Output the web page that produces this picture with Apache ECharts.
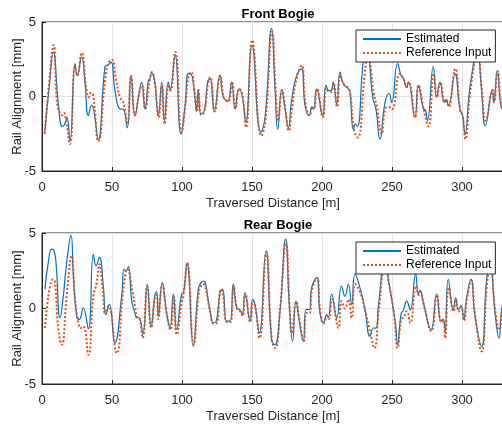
<!DOCTYPE html>
<html>
<head>
<meta charset="utf-8">
<script src="https://cdn.jsdelivr.net/npm/echarts@6/dist/echarts.min.js"></script>
<style>html,body{margin:0;padding:0;background:#fff}#c{width:502px;height:432px}</style>
</head>
<body>
<div id="c"></div>
<script>
var titles = ['Front Bogie', 'Rear Bogie'];
var seriesNames = ['Estimated', 'Reference Input'];
var xTicks = [0, 50, 100, 150, 200, 250, 300];
var yTicks = [-5, 0, 5];

var frontEstimated = [[1.9,-2.5],[5,0.5],[8.1,3.0],[11.7,-0.5],[14.5,-2.0],[16,-1.9],[17.8,-1.4],[20,-3.0],[23.6,2.2],[25.2,1.4],[28.3,2.66],[30.5,1.2],[33.1,-1.28],[35.5,-0.6],[37,-0.9],[40.2,-2.9],[45,2.0],[47,2.1],[49.3,2.3],[52.1,0.4],[55.7,-0.83],[58,-0.85],[60.9,-2.1],[63.6,1.4],[66.4,-1.28],[69.5,0.3],[71.2,0.97],[73.6,-0.83],[76,1.08],[77.1,1.2],[78.3,1.6],[80.7,0.9],[81.9,-0.5],[83.1,-1.28],[85.5,0.97],[87.4,-1.62],[90.2,0.97],[91.5,0.45],[95,2.8],[99.3,-2.53],[102.2,-0.61],[104.5,1.53],[106.4,1.5],[108.8,0.3],[110.4,-1.0],[111.6,0.43],[113.6,-1.17],[116,-0.95],[118.3,0.97],[120,1.2],[123.1,-1.0],[127.1,1.42],[129.5,-0.05],[131.9,-0.27],[133,-0.3],[135.5,0.97],[137.9,-0.83],[140.7,0.52],[143.1,0],[145.5,-1.73],[150,3.45],[156.3,-2.41],[159.3,-1.4],[164,4.57],[166.4,0.63],[168.4,-2.2],[171.2,0.43],[173.6,-0.83],[176,-2.1],[178.3,-0.25],[181.9,1.42],[185.3,1.86],[187.9,-0.61],[191,-1.28],[192.8,-0.7],[194,-0.85],[196.2,0.52],[200.5,-1.3],[202.9,0.74],[205,0.4],[206.5,0.4],[208,0.97],[210.5,-0.5],[212.9,1.64],[215.2,0.86],[218.8,0.52],[220,0.3],[222.4,-2.2],[223.8,-1.85],[225.3,-2.0],[229.5,2.43],[232,3.3],[236.2,-0.05],[238.5,-0.83],[241.4,-2.86],[245,-0.4],[247.9,0.2],[249.8,-0.4],[254,2.2],[256.5,1.4],[258.2,1.19],[260.5,0.63],[261.7,0.97],[266.4,-1.4],[268.8,0.74],[272.4,-0.83],[273.9,-0.9],[275.3,-1.62],[279.5,2.0],[281.9,-0.05],[284.3,0.97],[287.4,-0.4],[288.6,-0.2],[290.2,-0.6],[295,1.5],[298.6,-0.94],[300.3,-1.2],[302.1,-2.52],[305.7,0.63],[311,3.0],[313.8,0.63],[316.7,-1.96],[321.7,0.43],[322.7,-0.4],[325.2,1.7],[327.8,-0.6],[330,-1.0]];

var frontReference = [[1.9,-2.5],[5,0.8],[8.3,3.45],[10.6,-0.3],[12.7,-1.1],[14.5,-1.25],[15.7,-1.1],[17,-1.5],[20,-3.2],[23.6,2.0],[25.2,1.4],[28.3,2.93],[31.9,0.3],[33.5,-0.05],[35,0.25],[36.5,0.1],[40.2,-3.0],[46.2,1.87],[49.8,2.47],[52.9,1.08],[55.7,-0.05],[58.1,-0.4],[60.9,-1.85],[63.6,1.4],[66.4,-1.28],[69.6,0.3],[71.5,0.74],[73.6,-0.83],[77.1,1.19],[78.5,1.64],[80.9,0.7],[82,-0.4],[83.3,-1.4],[85.7,0.74],[87.6,-1.85],[90.4,0.8],[91.7,0.4],[95.2,3.0],[99.7,-2.4],[102.5,-0.5],[104.5,1.3],[106.4,1.64],[109,0.3],[110.6,-1.0],[111.8,0.43],[113.8,-1.25],[116,-1.0],[118.5,0.85],[120.2,1.3],[123.3,-1.0],[127.3,1.42],[129.7,-0.05],[132,-0.3],[133.2,-0.35],[135.7,0.97],[138.1,-0.83],[140.9,0.52],[143.3,0],[145.7,-2.07],[150.2,3.78],[156.7,-2.64],[159.5,-1.7],[164.4,4.35],[166.8,0.63],[168.8,-1.62],[171.4,0.43],[173.8,-0.83],[176.2,-2.3],[178.5,-0.8],[182.1,1.3],[185.5,2.09],[188.1,-0.4],[191.2,-1.28],[193,-0.7],[194.2,-0.85],[196.4,0.52],[200.7,-1.4],[203.1,0.55],[205.2,0.3],[206.7,0.3],[208.2,0.9],[210.7,-0.7],[213.1,1.42],[215.4,0.86],[219,0.52],[220.2,0.2],[223,-2.3],[225.5,-2.75],[230.5,1.5],[233,3.2],[234.5,2.2],[237,0.2],[239,-0.6],[242.6,-2.52],[245.2,-0.83],[247.9,-0.7],[250,-0.85],[255.7,1.53],[258.2,1.19],[260.5,0.63],[261.9,0.97],[266.6,-1.4],[269,0.74],[272.6,-0.83],[276,-2.0],[279.8,1.53],[282.1,-0.05],[284.5,0.97],[287.6,-0.4],[288.8,-0.2],[290.4,-0.7],[295.2,1.87],[298.8,-0.94],[300.5,-1.3],[302.4,-2.86],[306,0.4],[311.3,3.0],[314,0.63],[317,-1.62],[321.9,0.43],[322.9,-0.4],[325.4,1.7],[328,-0.6],[330,-1.0]];

var rearEstimated = [[2.1,1.27],[4.5,3.05],[6.9,3.93],[8.6,3.82],[10,3.05],[12.9,-0.62],[15.2,0.8],[17.1,2.6],[20.7,4.82],[22.4,2.16],[24.8,-0.5],[26.7,-0.73],[27.6,-0.6],[29.5,0.04],[33.1,-1.35],[36.7,3.6],[38.6,2.82],[41,3.38],[43.8,1.49],[45.7,-0.4],[48.1,0.27],[52.1,-2.29],[56.9,0.82],[58.6,2.6],[60,2.5],[61.7,2.78],[64.1,0.49],[66.4,-0.29],[67.5,-0.6],[69.3,-0.6],[72,-1.7],[75.2,1.6],[77.9,-1.2],[80.7,0.9],[81.9,1.1],[83.1,-0.51],[85.9,1.71],[89,-0.29],[91.4,-1.29],[93.8,0.96],[96.2,-1.4],[99.8,0.96],[101,1.0],[103.6,3.04],[108.1,-2.51],[111.6,1.27],[113.5,1.7],[115.2,1.82],[119.9,-0.07],[122.4,-0.95],[124.2,-0.9],[127.3,1.1],[129,1.27],[131.9,-0.84],[134.3,-0.84],[136.7,1.6],[139.1,0.04],[141.5,-0.1],[143.1,-0.4],[145,1.04],[148.6,-0.84],[150.5,0.6],[152.2,0.2],[155.2,-1.62],[160,3.82],[164,-2.07],[166.4,-2.4],[169.9,-0.3],[174,4.6],[176.7,0.16],[179,-2.18],[181.4,0.49],[183.8,-0.84],[186.7,-2.18],[188.6,-0.07],[191,-0.07],[192.6,1.38],[196.2,2.04],[198.6,-0.29],[201,-0.95],[203.4,-0.4],[204.6,-0.6],[206.9,0.96],[210.5,-0.62],[214,1.49],[216.4,0.8],[218.8,1.6],[221.2,0.27],[223.6,2.27],[227.4,1.27],[230.7,-0.07],[234.3,-1.84],[236.7,-1.29],[238.5,-1.3],[240.5,0.38],[245,3.3],[247.4,1.93],[251,-0.07],[252.5,-1.0],[254,-2.4],[256.4,-0.4],[258.1,-0.1],[260.5,0.49],[263,-0.1],[266.9,2.27],[268.8,0.96],[270,1.2],[272.4,0.38],[277.9,-1.4],[281.9,0.96],[285,-0.84],[286.6,-0.7],[287.9,-1.51],[290.2,1.93],[293.8,-0.07],[295.5,0.71],[297.4,-0.07],[299.3,0.2],[301.2,-0.73],[303.3,0.71],[306.4,1.93],[309.3,-0.51],[314,-2.51],[317.6,1.93],[320,3.0],[323.6,-0.29],[326.4,-1.96],[328.3,-0.07],[330,0.5]];

var rearReference = [[2.1,-1.29],[5.7,1.49],[8.1,1.93],[9.3,1.75],[11.7,-1.4],[14.1,-2.4],[17.6,0.8],[21.2,3.49],[23.6,0.6],[26,-0.95],[27.6,-1.29],[29.5,-1.18],[33.1,-3.07],[36.7,0.8],[39.1,1.71],[41,2.93],[43.5,1.2],[45,-0.29],[47.4,0.16],[53.3,-2.96],[58.1,1.27],[61,2.6],[64.8,1.04],[66.4,0.16],[68,-0.6],[69.8,-0.7],[71.9,-1.95],[75.2,1.49],[77.9,-1.29],[80.7,0.8],[81.9,0.9],[83.1,-0.7],[85.9,1.6],[89,-0.3],[91.8,-1.4],[94.2,0.8],[96.2,-1.73],[99.8,0.4],[101,0.9],[103.8,3.0],[108.3,-2.4],[111.8,0.9],[113.5,1.5],[115.2,1.6],[116.5,1.49],[120.1,-0.2],[122.6,-1.0],[124.4,-1.0],[127.9,1.27],[129,1.1],[132.1,-0.9],[134.5,-0.9],[136.9,1.5],[139.3,0.0],[141.7,-0.2],[143.3,-0.5],[145.2,1.0],[148.8,-0.9],[150.7,0.5],[152.4,0.1],[155.4,-1.96],[160.2,3.7],[164.2,-2.1],[166.6,-2.62],[170.1,0.0],[174.2,4.38],[176.9,0.0],[178.4,-1.62],[181.6,0.45],[184,-0.84],[186.9,-2.18],[188.8,-0.3],[191.2,-0.3],[192.8,1.2],[196.4,2.04],[198.8,-0.3],[201.2,-1.0],[203.6,-0.5],[204.8,-0.7],[207.2,0.6],[211.7,-1.29],[214,0.49],[216.4,0.0],[218.8,0.6],[221.2,-0.62],[223.8,1.6],[227.4,1.04],[231,-0.2],[234.5,-1.6],[237.4,-2.62],[240.7,0.0],[245.2,3.2],[247.6,1.8],[251.2,-0.2],[254,-2.62],[256.6,-0.7],[258.3,-0.6],[260.5,-0.18],[263,-0.95],[267.2,1.49],[269,0.9],[270.2,1.1],[272.6,0.3],[278.1,-1.5],[282.1,0.9],[285.2,-0.9],[286.8,-0.8],[287.9,-1.96],[290.6,1.38],[294,-0.2],[295.7,0.6],[297.6,-0.2],[299.5,0.1],[301.4,-0.8],[303.5,0.6],[306.6,1.85],[309.5,-0.6],[314,-2.84],[317.8,1.6],[320.2,2.9],[323.8,-0.2],[326.6,-1.4],[328.5,-0.3],[330,0.3]];

var FONT = '"Liberation Sans", Arial, Helvetica, sans-serif';
var AX = '#262626';
var grids = [
  {left: 42, top: 22, width: 462, height: 149},
  {left: 42, top: 233, width: 462, height: 151}
];

function mkX(i) {
  return {
    type: 'value', gridIndex: i, min: 0, max: 330, interval: 50,
    name: 'Traversed Distance [m]', nameLocation: 'middle', nameGap: 26,
    nameMoveOverlap: false,
    nameTextStyle: {fontFamily: FONT, fontSize: 13, color: AX},
    axisLine: {show: true, onZero: false, lineStyle: {color: AX, width: 1}},
    axisTick: {show: true, inside: true, length: 4, lineStyle: {color: AX}},
    axisLabel: {fontFamily: FONT, fontSize: 13, color: AX, margin: 10,
      formatter: function (v) { return xTicks.indexOf(v) >= 0 ? String(v) : ''; }},
    splitLine: {show: true, lineStyle: {color: '#e3e3e3', width: 1}}
  };
}
function mkY(i) {
  return {
    type: 'value', gridIndex: i, min: -5, max: 5, interval: 5,
    name: 'Rail Alignment [mm]', nameLocation: 'middle', nameGap: 18,
    nameMoveOverlap: false,
    nameTextStyle: {fontFamily: FONT, fontSize: 13, color: AX},
    axisLine: {show: true, onZero: false, lineStyle: {color: AX, width: 1}},
    axisTick: {show: true, inside: true, length: 4, lineStyle: {color: AX}},
    axisLabel: {fontFamily: FONT, fontSize: 13, color: AX, margin: 6,
      formatter: function (v) { return yTicks.indexOf(v) >= 0 ? String(v) : ''; }},
    splitLine: {show: true, lineStyle: {color: '#e3e3e3', width: 1}}
  };
}
function mkLegend(top) {
  return {
    left: 356, top: top, orient: 'vertical',
    data: seriesNames,
    backgroundColor: '#fff', borderColor: AX, borderWidth: 1, borderRadius: 0,
    padding: [3, 4, 3, 6], itemGap: 2, itemWidth: 38, itemHeight: 12,
    itemStyle: {color: 'transparent', borderColor: 'transparent', borderWidth: 0, opacity: 0},
    textStyle: {fontFamily: FONT, fontSize: 12, color: '#000'},
    z: 20
  };
}
function mkSeries(name, data, i) {
  var est = name === seriesNames[0];
  return {
    name: name, type: 'line', xAxisIndex: i, yAxisIndex: i,
    data: data, smooth: 0.5, symbol: 'none', clip: true,
    lineStyle: est ? {color: '#0072BD', width: 1.2}
                   : {color: '#D95319', width: 2, type: [2, 2]},
    itemStyle: {color: est ? '#0072BD' : '#D95319'},
    z: est ? 3 : 4
  };
}

var chart = echarts.init(document.getElementById('c'), null, {renderer: 'canvas'});
chart.setOption({
  animation: false,
  backgroundColor: '#fff',
  title: [
    {text: titles[0], left: 273, top: 3, textAlign: 'center',
     textStyle: {fontFamily: FONT, fontSize: 13, fontWeight: 'bold', color: '#000'}},
    {text: titles[1], left: 273, top: 214, textAlign: 'center',
     textStyle: {fontFamily: FONT, fontSize: 13, fontWeight: 'bold', color: '#000'}}
  ],
  grid: grids.map(function (g) {
    return Object.assign({show: true, borderColor: AX, borderWidth: 1, backgroundColor: '#fff',
      containLabel: false, outerBoundsMode: 'none'}, g);
  }),
  xAxis: [mkX(0), mkX(1)],
  yAxis: [mkY(0), mkY(1)],
  legend: [mkLegend(30), mkLegend(242)],
  series: [
    mkSeries(seriesNames[0], frontEstimated, 0),
    mkSeries(seriesNames[1], frontReference, 0),
    mkSeries(seriesNames[0], rearEstimated, 1),
    mkSeries(seriesNames[1], rearReference, 1)
  ]
});
</script>
</body>
</html>
